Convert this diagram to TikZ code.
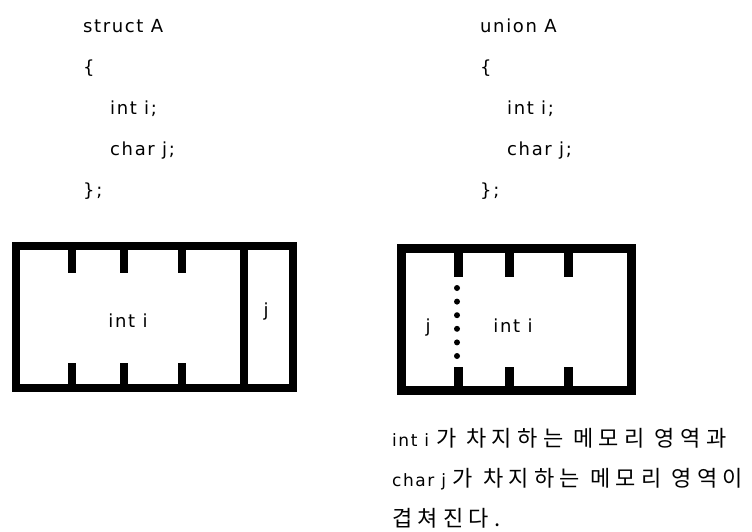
\documentclass[tikz,border=0pt]{standalone}
\usepackage{fontspec}
\setmainfont[LetterSpace=9]{DejaVu Sans}
\newfontfamily\kor[LetterSpace=24]{Noto Sans CJK KR}
\newcommand\korbig{\kor\fontsize{22}{24}\selectfont}
\begin{document}
\begin{tikzpicture}[x=1pt,y=-1pt,
  code/.style={anchor=base west,inner sep=0pt,font=\fontsize{18}{22}\selectfont},
  lbl/.style={anchor=base,inner sep=0pt,font=\fontsize{18}{22}\selectfont},
  notetext/.style={anchor=base west,inner sep=0pt,font=\fontsize{17}{20}\selectfont},
  box/.style={line width=8pt,line join=miter,line cap=rect},
  tick/.style={line width=8pt}]
\useasboundingbox (0,0) rectangle (752,531);
% code texts
\node[code] (s1) at (83,32) {struct A};
\node[code] (s2) at (83,73) {\{};
\node[code] (s3) at (110,114) {int i;};
\node[code] (s4) at (110,155) {char j;};
\node[code] (s5) at (83,196) {\};};
\node[code] (u1) at (480,32) {union A};
\node[code] (u2) at (480,73) {\{};
\node[code] (u3) at (507,114) {int i;};
\node[code] (u4) at (507,155) {char j;};
\node[code] (u5) at (480,196) {\};};
% struct box
\draw[box] (16,246) rectangle (293,388);
\draw[tick] (244,246) -- (244,388);
\foreach \x in {72,124,182}{
  \draw[tick] (\x,246) -- (\x,273);
  \draw[tick] (\x,363) -- (\x,388);
}
\node[lbl] (si) at (128,327) {int i};
\node[lbl] (sj) at (266,316) {j};
% union box
\draw[box,line width=9pt] (401,248) rectangle (631,390);
\foreach \x in {458,509,568}{
  \draw[tick,line width=9pt] (\x,248) -- (\x,277);
  \draw[tick,line width=9pt] (\x,367) -- (\x,390);
}
\foreach \k in {0,...,5}{
  \fill (457,288+13.6*\k) circle (3pt);
}
\node[lbl] (uj) at (428,332) {j};
\node[lbl] (ui) at (513,332) {int i};
% note
\node[notetext] (n1) at (392,446) {int i {\korbig 가 차지하는 메모리 영역과}};
\node[notetext] (n2) at (392,486) {char j {\korbig 가 차지하는 메모리 영역이}};
\node[notetext] (n3) at (392,526) {\korbig 겹쳐진다.};
\end{tikzpicture}
\end{document}
